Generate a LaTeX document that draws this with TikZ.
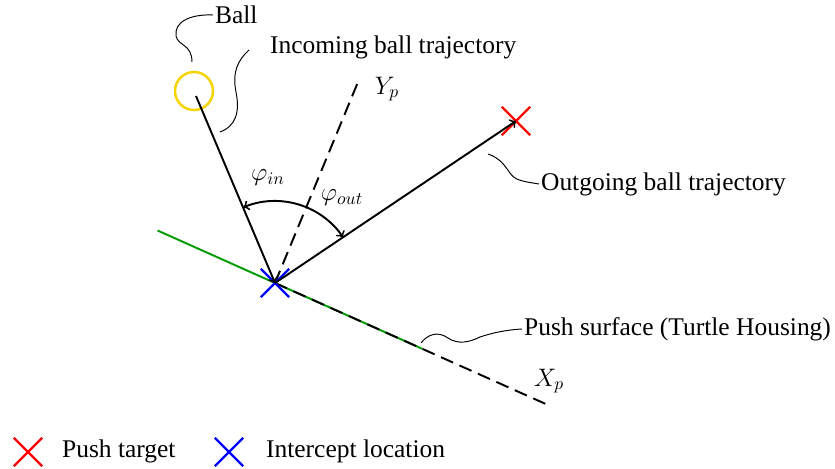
\documentclass[tikz,border=0pt]{standalone}
\usepackage{fontspec}
\setmainfont{Liberation Serif}
\usepackage{amsmath}
\usetikzlibrary{calc,shapes.misc}
\definecolor{ballyellow}{RGB}{245,212,0}
\definecolor{surfgreen}{RGB}{0,155,0}
\tikzset{
  vec/.style={line width=1.1pt,->},
  axis/.style={line width=1.1pt,dash pattern=on 7.5pt off 4pt},
  annot/.style={line width=0.55pt},
  crossmark/.style={cross out,line width=1.3pt,minimum size=0.52cm,inner sep=0pt},
  lbl/.style={anchor=west,inner sep=1pt},
}

\begin{document}
\begin{tikzpicture}[x=0.02cm,y=-0.02cm,font=\fontsize{14.5}{17}\selectfont]
\useasboundingbox (0,0) rectangle (835,469);
% frame points
\coordinate (I) at (275,283);
\coordinate (Xp) at (548,405);
\coordinate (Yp) at (358,82);
\coordinate (B) at (194,91);
\coordinate (Bs) at (196,96);
\coordinate (Sa) at ($(I)!-0.43!(Xp)$);
\coordinate (Sb) at ($(I)!0.54!(Xp)$);
% push surface and axes
\draw[surfgreen,line width=1.1pt] (Sa) -- (Sb);
\draw[axis] (I) -- (Xp);
\draw[axis] (I) -- (Yp);
\node (xlab) at (549,381) {$X_p$};
\node (ylab) at (387,89) {$Y_p$};
% ball
\draw[ballyellow,line width=1.4pt] (B) circle (19);
% markers
\node[crossmark,draw=red] (target) at (516,121) {};
\node[crossmark,draw=blue] (icpt) at (I) {};
% trajectories
\draw[vec] (Bs) -- (I);
\draw[vec] (I) -- (target.center);
% angles
\draw[vec] ($(I)+(-67.6:82)$) arc[start angle=-67.6,end angle=-112.6,radius=82];
\draw[vec] ($(I)+(-67.6:82)$) arc[start angle=-67.6,end angle=-33.9,radius=82];
\node (phiin) at (268,178) {$\varphi_{in}$};
\node (phiout) at (342,198) {$\varphi_{out}$};
% labels
\node[lbl] (ball) at (213,15) {Ball};
\node[lbl] (inc) at (268,47) {Incoming ball trajectory};
\node[lbl] (out) at (539,184) {Outgoing ball trajectory};
\node[lbl] (push) at (522,329) {Push surface (Turtle Housing)};
\coordinate (ballend) at (192,62);
\coordinate (incend) at (220,132);
\coordinate (outend) at (488,154);
\coordinate (pushend) at (421,343);
\draw[annot] (ball.west) .. controls (190,14) and (174,22) .. (176,36)
  .. controls (178,46) and (192,44) .. (ballend);
\draw[annot] (249,50) .. controls (238,60) and (232,72) .. (236,92)
  .. controls (240,112) and (236,126) .. (incend);
\draw[annot] (outend) .. controls (500,158) and (505,166) .. (510,173)
  .. controls (515,180) and (520,181) .. (out.west);
\draw[annot] (pushend) .. controls (428,334) and (438,331) .. (448,338)
  .. controls (458,345) and (470,342) .. (480,337)
  .. controls (492,333) and (505,330) .. (push.west);
% legend
\node[crossmark,draw=red] (legtarget) at (28,452) {};
\node[lbl] (legtargettxt) at (60,451) {Push target};
\node[crossmark,draw=blue] (legicpt) at (229,452) {};
\node[lbl] (legicpttxt) at (264,451) {Intercept location};
\end{tikzpicture}
\end{document}
